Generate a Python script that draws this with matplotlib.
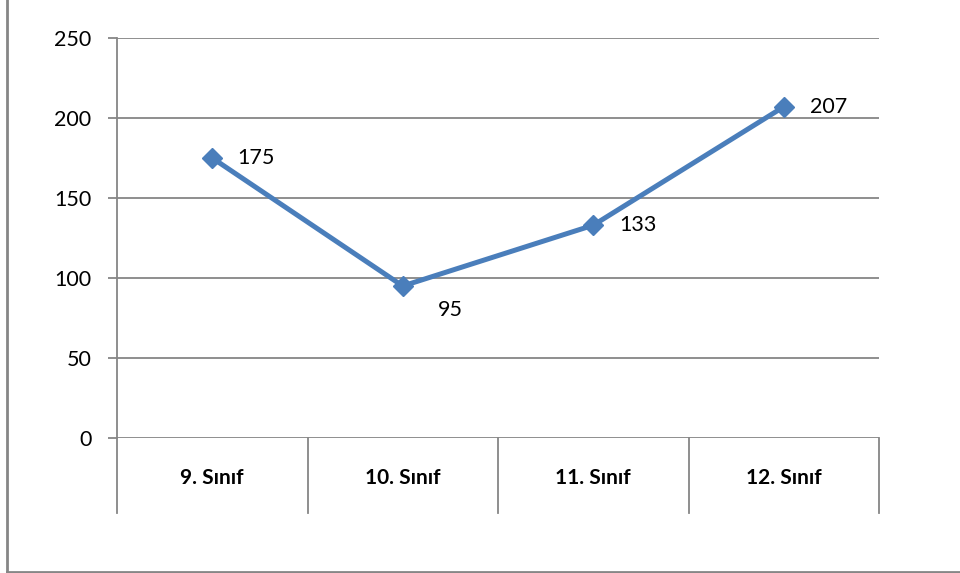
import matplotlib.pyplot as plt
from matplotlib.lines import Line2D
from matplotlib.transforms import blended_transform_factory

# data
categories = ["9. Sınıf", "10. Sınıf", "11. Sınıf", "12. Sınıf"]
values = [175, 95, 133, 207]
yticks = [0, 50, 100, 150, 200, 250]
# label offsets in points (dx, dy)
label_offsets = [(18, 0), (25, -17), (19, 0), (19, 0)]

W, H = 960, 573
plt.rcParams['font.family'] = ['Lato', 'DejaVu Sans']

fig = plt.figure(figsize=(W / 100, H / 100), dpi=100)
ax = fig.add_axes([117 / W, (H - 438) / H, (879 - 117) / W, 400 / H])

grid_col = '#868686'
line_col = '#4A7EBB'

x = list(range(len(categories)))
ax.plot(x, values, color=line_col, lw=3.6, marker='D', markersize=10,
        markerfacecolor=line_col, markeredgecolor=line_col, zorder=3,
        solid_capstyle='round')

for xi, v, (dx, dy) in zip(x, values, label_offsets):
    ax.annotate(str(v), (xi, v), xytext=(dx, dy), textcoords='offset points',
                ha='left', va='center', fontsize=15.5, color='black')

ax.set_xlim(-0.5, 3.5)
ax.set_ylim(0, 250)
ax.set_yticks(yticks)
ax.set_xticks([])
ax.yaxis.grid(True, color=grid_col, lw=1.3)
ax.set_axisbelow(True)
ax.tick_params(axis='y', length=6.5, width=1.3, color=grid_col,
               pad=12, labelsize=15.5)

for s in ['top', 'right', 'bottom']:
    ax.spines[s].set_visible(False)
ax.spines['left'].set_color(grid_col)
ax.spines['left'].set_linewidth(1.3)

# category table below the axis
trans = blended_transform_factory(ax.transData, ax.transAxes)
for b in [-0.5, 0.5, 1.5, 2.5, 3.5]:
    ax.add_line(Line2D([b, b], [0, -0.1875], transform=trans, color=grid_col,
                       lw=1.3, clip_on=False))
for xi, c in zip(x, categories):
    ax.text(xi, -0.1, c, transform=trans, ha='center', va='center',
            fontsize=15, fontweight='bold')

# outer frame (left and bottom visible)
fig.add_artist(Line2D([6.5 / W, 6.5 / W], [1.5 / H, 1], color=grid_col, lw=2))
fig.add_artist(Line2D([6.5 / W, 1], [1.5 / H, 1.5 / H], color=grid_col, lw=2))

fig.savefig('out.png', dpi=100, facecolor='white')
